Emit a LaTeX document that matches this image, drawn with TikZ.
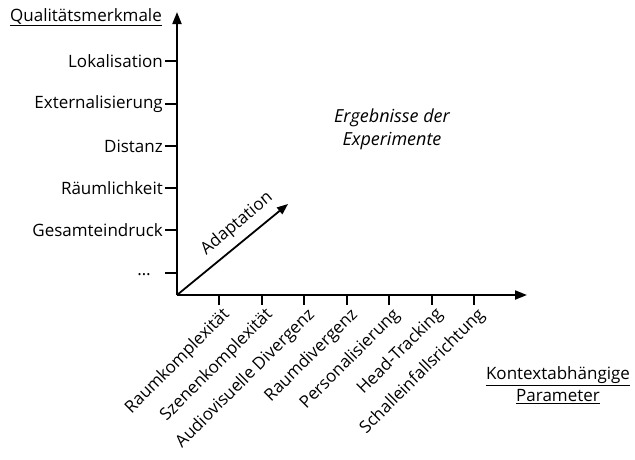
\documentclass[tikz,border=0pt]{standalone}
\usepackage{fontspec}
\setmainfont{Open Sans}
\usetikzlibrary{arrows.meta}
\begin{document}
\begin{tikzpicture}[x=1pt,y=-1pt,
  every node/.style={font=\fontsize{17}{20}\selectfont, inner sep=1pt},
  axis/.style={line width=2pt, -{Triangle[length=12pt,width=9pt]}},
  tick/.style={line width=2pt},
  ylab/.style={anchor=east},
  xlab/.style={anchor=north east, rotate=45, inner sep=0pt}]
\useasboundingbox (0,0) rectangle (635,459);
\coordinate (O) at (177,295);
\coordinate (ytop) at (177,12);
\coordinate (xend) at (527,295);
\coordinate (adapt) at (288,204);
\draw[axis] (O) -- (ytop);
\draw[axis] (O) -- (xend);
\draw[line width=1.8pt, -{Triangle[length=11pt,width=8.5pt]}] (O) -- (adapt);
% quality attributes on the vertical axis
\foreach \y [count=\i] in {61,104,146,188,230,273}{
  \coordinate (yt\i) at (165,\y);
  \draw[tick] (yt\i) -- (177,\y);
}
\foreach \t [count=\i] in {Lokalisation,Externalisierung,Distanz,Räumlichkeit,Gesamteindruck}{
  \node[ylab] (yl\i) at ([xshift=-1pt]yt\i) {\t};
}
\node (dots) at (144,275) {\dots};
% context parameters on the horizontal axis
\foreach \x/\t [count=\i] in {219/Raumkomplexität,262/Szenenkomplexität,304/Audiovisuelle Divergenz,347/Raumdivergenz,389/Personalisierung,432/Head-Tracking,474/Schalleinfallsrichtung}{
  \coordinate (xt\i) at (\x,305);
  \draw[tick] (\x,295) -- (xt\i);
  \node[xlab] (xl\i) at ([xshift=2pt,yshift=-1pt]xt\i) {\t};
}
\node (qual) at (86,17) {\underline{Qualitätsmerkmale}};
\node[rotate=40] (adlab) at (237,224) {Adaptation};
\node[align=center, font=\fontsize{18}{23}\selectfont\itshape] (erg) at (392,129) {Ergebnisse der\\Experimente};
\node[align=center, font=\fontsize{17}{22}\selectfont] (ktx) at (558,385) {\underline{Kontextabhängige}\\\underline{Parameter}};
\end{tikzpicture}
\end{document}
